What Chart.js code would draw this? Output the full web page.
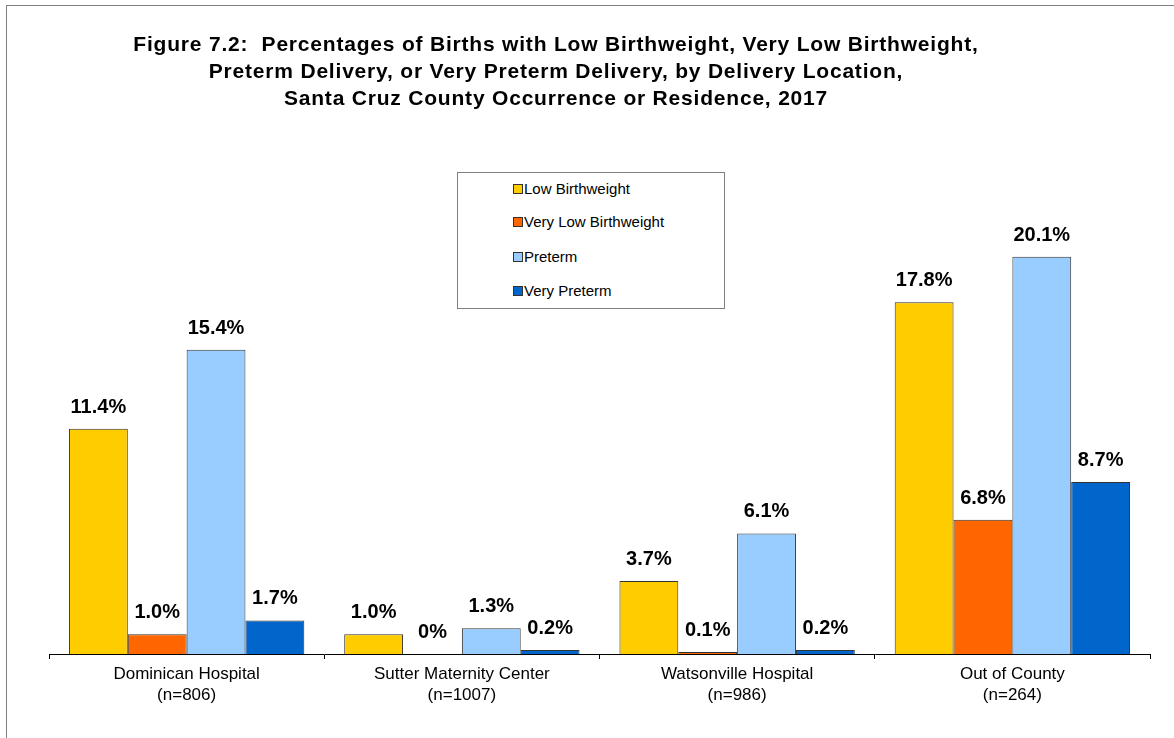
<!DOCTYPE html>
<html>
<head>
<meta charset="utf-8">
<script src="https://cdn.jsdelivr.net/npm/chart.js@4"></script>
<style>
  body { margin: 0; background: #fff; font-family: "Liberation Sans", Arial, sans-serif; }
  #frame { position: absolute; left: 6px; top: 5px; width: 1300px; height: 900px; border: 1px solid #808080; }
  #title { position: absolute; left: 0; top: 30px; width: 1112px; text-align: center;
           font-weight: bold; font-size: 21px; letter-spacing: 0.8px; line-height: 27px; color: #000; }
  #legend { position: absolute; left: 457px; top: 172px; width: 266px; height: 135px;
            border: 1px solid #808080; background: #fff; }
  .item { position: absolute; left: 55px; font-size: 15px; line-height: 18px; color: #000; white-space: nowrap; }
  .sw { display: inline-block; width: 8px; height: 8px; border: 1px solid #333; margin-right: 1px; vertical-align: 0px; }
  #wrap { position: absolute; left: 0; top: 0; width: 1174px; height: 738px; }
</style>
</head>
<body>
<div id="frame"></div>
<div id="wrap"><canvas id="chart"></canvas></div>
<div id="title">Figure 7.2:&nbsp; Percentages of Births with Low Birthweight, Very Low Birthweight,<br>Preterm Delivery, or Very Preterm Delivery, by Delivery Location,<br>Santa Cruz County Occurrence or Residence, 2017</div>
<div id="legend"></div>
<script>
// chart data
const locations = [
  ["Dominican Hospital", "(n=806)"],
  ["Sutter Maternity Center", "(n=1007)"],
  ["Watsonville Hospital", "(n=986)"],
  ["Out of County", "(n=264)"]
];
const seriesNames = ["Low Birthweight", "Very Low Birthweight", "Preterm", "Very Preterm"];
const lowBirthweight = [11.4, 1.0, 3.7, 17.8];
const veryLowBirthweight = [1.0, 0, 0.1, 6.8];
const preterm = [15.4, 1.3, 6.1, 20.1];
const veryPreterm = [1.7, 0.2, 0.2, 8.7];
const seriesColors = ["#FFCC00", "#FF6600", "#99CCFF", "#0066CC"];

const seriesValues = [lowBirthweight, veryLowBirthweight, preterm, veryPreterm];

// html legend
const legendEl = document.getElementById("legend");
const rowTops = [7, 40, 75, 109];
seriesNames.forEach(function (name, i) {
  const div = document.createElement("div");
  div.className = "item";
  div.style.top = rowTops[i] + "px";
  div.innerHTML = '<span class="sw" style="background:' + seriesColors[i] + '"></span>' + name;
  legendEl.appendChild(div);
});

// value labels above bars
const valueLabels = {
  id: "valueLabels",
  afterDatasetsDraw(chart) {
    const ctx = chart.ctx;
    ctx.save();
    ctx.font = "bold 20px 'Liberation Sans', Arial, sans-serif";
    ctx.fillStyle = "#000";
    ctx.textAlign = "center";
    ctx.textBaseline = "alphabetic";
    chart.data.datasets.forEach(function (ds, i) {
      chart.getDatasetMeta(i).data.forEach(function (bar, j) {
        const v = ds.data[j];
        const txt = v === 0 ? "0%" : v.toFixed(1) + "%";
        ctx.fillText(txt, bar.x, bar.y - 16);
      });
    });
    ctx.restore();
  }
};

const ctx = document.getElementById("chart").getContext("2d");
new Chart(ctx, {
  type: "bar",
  data: {
    labels: locations,
    datasets: seriesNames.map(function (name, i) {
      return {
        label: name,
        data: seriesValues[i],
        backgroundColor: seriesColors[i],
        borderColor: "#333333",
        borderWidth: 1,
        categoryPercentage: 0.855,
        barPercentage: 1.0
      };
    })
  },
  options: {
    responsive: true,
    maintainAspectRatio: false,
    animation: false,
    layout: { padding: { left: 49, right: 24, top: 160, bottom: 0 } },
    plugins: {
      legend: { display: false },
      title: { display: false },
      tooltip: { enabled: false }
    },
    scales: {
      x: {
        grid: { drawOnChartArea: false, drawTicks: true, tickLength: 5, color: "#000" },
        border: { display: true, color: "#000", width: 1 },
        ticks: {
          color: "#000",
          padding: 5,
          maxRotation: 0,
          font: { family: "'Liberation Sans', Arial, sans-serif", size: 17, lineHeight: 1.24 }
        },
        afterFit: function (scale) { scale.height = 84; }
      },
      y: {
        display: false,
        min: 0,
        max: 25
      }
    }
  },
  plugins: [valueLabels]
});
</script>
</body>
</html>
